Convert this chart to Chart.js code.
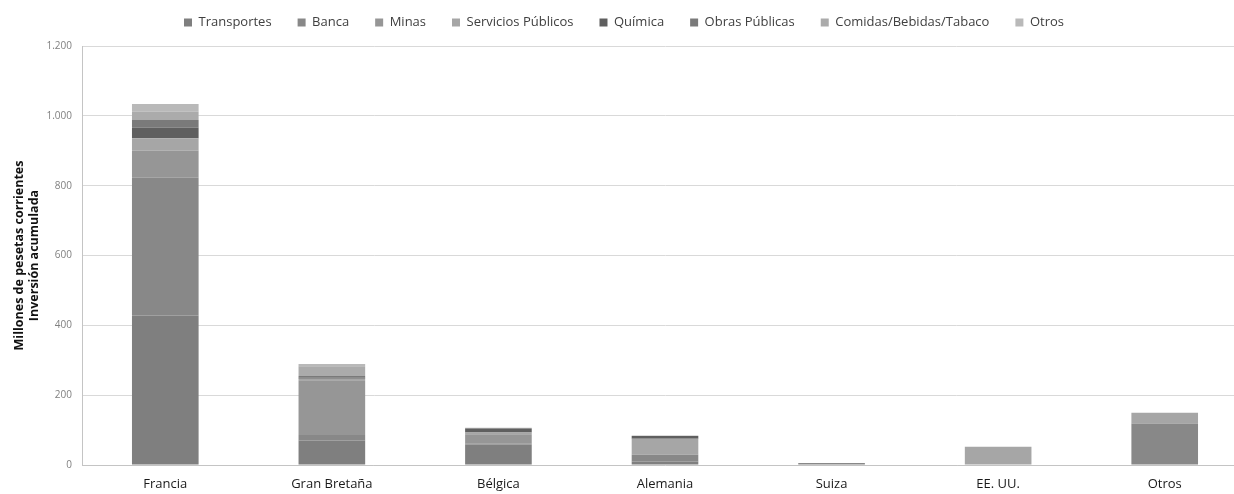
<!DOCTYPE html>
<html>
<head>
<meta charset="utf-8">
<script src="https://cdn.jsdelivr.net/npm/chart.js@4/dist/chart.umd.min.js"></script>
<style>
html,body{margin:0;padding:0;background:#fff;overflow:hidden;}
#wrap{position:relative;width:1250px;height:494px;}
</style>
</head>
<body>
<div id="wrap"><canvas id="c"></canvas></div>
<script>
const categories = ['Francia','Gran Bretaña','Bélgica','Alemania','Suiza','EE. UU.','Otros'];
const transportes = [428, 70, 59, 10, 0, 0, 0];
const banca       = [395, 16, 2, 19, 6, 0, 119];
const minas       = [77, 157, 27, 0, 0, 0, 0];
const servicios   = [36, 4, 5, 46, 0, 52, 31];
const quimica     = [30, 3, 10, 8, 0, 0, 0];
const obras       = [22, 5, 2, 1, 0, 0, 0];
const comidas     = [24, 28, 1, 0, 0, 0, 0];
const otros       = [22, 6, 1, 0, 0, 0, 0];
const yTickLabels = ['0','200','400','600','800','1.000','1.200'];
const seriesNames = ['Transportes','Banca','Minas','Servicios Públicos','Química','Obras Públicas','Comidas/Bebidas/Tabaco','Otros'];
const seriesValues = [transportes, banca, minas, servicios, quimica, obras, comidas, otros];
const seriesColors = ['#7f7f7f','#888888','#969696','#a6a6a6','#5f5f5f','#7a7a7a','#ababab','#b9b9b9'];

const legendFix = {
  id: 'legendFix',
  beforeInit(chart) {
    const lg = chart.legend;
    if (!lg) return;
    const orig = lg.fit;
    lg.fit = function() { orig.call(this); this.height = 56; };
  }
};

new Chart(document.getElementById('c'), {
  type: 'bar',
  data: {
    labels: categories,
    datasets: seriesNames.map((n, i) => ({
      label: n,
      data: seriesValues[i],
      backgroundColor: seriesColors[i],
      borderWidth: 0,
      barPercentage: 0.4,
      categoryPercentage: 1.0
    }))
  },
  plugins: [legendFix],
  options: {
    responsive: true,
    maintainAspectRatio: false,
    devicePixelRatio: 1,
    animation: false,
    layout: { padding: { top: -10, right: 2, left: 0, bottom: 0 } },
    plugins: {
      tooltip: { enabled: false },
      legend: {
        position: 'top',
        labels: {
          boxWidth: 8, boxHeight: 8, padding: 26,
          color: '#404040',
          font: { family: 'Open Sans', size: 13 }
        }
      }
    },
    scales: {
      x: {
        stacked: true,
        grid: { display: false, drawTicks: false },
        border: { display: true, color: '#c4c4c4' },
        ticks: { padding: 11, color: '#1a1a1a', font: { family: 'Open Sans', size: 13 }, maxRotation: 0 },
        afterFit(s) { s.width = s.width; s.height = 29; }
      },
      y: {
        stacked: true,
        min: 0, max: 1200,
        grid: { color: '#d9d9d9', drawTicks: false },
        border: { display: true, color: '#c4c4c4' },
        ticks: {
          stepSize: 200, padding: 10, color: '#808080',
          font: { family: 'Open Sans', size: 10 },
          callback: (v, i) => yTickLabels[i]
        },
        title: {
          display: true,
          text: ['Millones de pesetas corrientes', 'Inversión acumulada'],
          color: '#111',
          font: { family: 'Open Sans', size: 12.5, weight: 'bold', lineHeight: 1.2 },
          padding: { top: 12, bottom: 0 }
        },
        afterFit(s) { s.width = 82; }
      }
    }
  }
});
</script>
</body>
</html>
